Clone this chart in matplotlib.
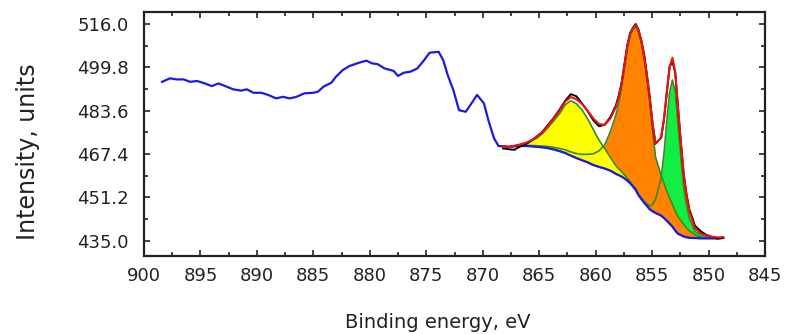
import numpy as np
import matplotlib.pyplot as plt
from matplotlib.ticker import MultipleLocator, FixedLocator, FormatStrFormatter

# survey part of the spectrum (blue)
survey_x = [898.4, 897.7, 897.1, 896.5, 895.9, 895.3, 894.6, 894.0, 893.4, 892.8,
            892.1, 891.4, 890.9, 890.3, 889.6, 889.0, 888.3, 887.7, 887.1, 886.5,
            885.8, 885.0, 884.6, 884.1, 883.4, 883.0, 882.4, 881.8, 881.0, 880.3,
            879.8, 879.3, 878.7, 877.9, 877.5, 877.0, 876.4, 875.8, 875.3, 874.7,
            873.9, 873.5, 873.1, 872.6, 872.1, 871.5, 871.1, 870.5, 869.9, 869.5,
            869.0, 868.6]
survey_y = [494.4, 495.7, 495.3, 495.3, 494.4, 494.7, 493.8, 492.8, 493.8, 492.8,
            491.6, 491.1, 491.6, 490.3, 490.3, 489.5, 488.2, 488.8, 488.2, 488.8,
            490.1, 490.3, 490.7, 492.6, 494.1, 496.3, 498.8, 500.3, 501.5, 502.3,
            501.3, 501.0, 499.4, 498.5, 496.6, 497.8, 498.2, 499.4, 501.9, 505.3,
            505.6, 502.5, 496.9, 491.3, 483.8, 483.2, 485.7, 489.5, 486.4, 480.1,
            473.3, 470.4]

# fit region: energy grid, background (blue) and the three components above it
fit_x = [868.2, 867.7, 867.2, 866.7, 866.2, 865.7, 865.2, 864.7, 864.2, 863.7,
         863.2, 862.7, 862.2, 861.7, 861.2, 860.7, 860.2, 859.7, 859.2, 858.7,
         858.2, 857.95, 857.7, 857.45, 857.2, 856.95, 856.7, 856.45, 856.2, 855.95,
         855.7, 855.45, 855.2, 854.95, 854.7, 854.2, 853.95, 853.7, 853.45, 853.2,
         852.95, 852.7, 852.45, 852.2, 851.95, 851.7, 851.2, 850.7, 850.2, 849.7,
         849.2, 848.7]
background = [470.3, 470.1, 470.3, 470.4, 470.4, 470.3, 470.1, 469.9, 469.6, 469.1,
              468.5, 467.8, 466.8, 465.9, 465.1, 464.3, 463.3, 462.6, 462.0, 461.2,
              460.0, 459.5, 459.0, 458.3, 457.5, 456.5, 455.3, 454.0, 452.0, 450.6,
              449.2, 448.0, 446.7, 446.0, 445.4, 444.4, 443.5, 442.5, 441.4, 440.3,
              438.8, 437.6, 437.1, 436.6, 436.3, 436.1, 436.0, 435.9, 435.9, 435.9,
              435.9, 436.1]
peak_yellow = [0, 0, 0.1, 0.5, 1.0, 2.0, 3.3, 5.2, 7.8, 10.8,
               14.0, 18.0, 20.5, 20.3, 18.8, 16.2, 13.2, 10.0, 7.5, 5.0,
               3.0, 2.4, 1.8, 1.3, 0.9, 0.6, 0.4, 0.3, 0.2, 0.1,
               0.1, 0.1, 0.1, 0, 0, 0, 0, 0, 0, 0,
               0, 0, 0, 0, 0, 0, 0, 0, 0, 0,
               0, 0]
peak_orange = [0, 0, 0.1, 0.1, 0.2, 0.3, 0.4, 0.5, 0.6, 0.8,
               1.0, 1.2, 1.4, 1.7, 2.2, 3.0, 4.2, 6.0, 8.8, 14.5,
               22.0, 27.0, 33.0, 41.0, 49.0, 55.0, 58.5, 61.0, 61.0, 58.5,
               54.0, 47.5, 40.0, 30.0, 21.0, 15.0, 13.0, 11.0, 9.5, 8.3,
               7.3, 6.4, 5.4, 4.5, 3.5, 2.6, 1.2, 0.5, 0.2, 0.1,
               0, 0]
peak_green = [0, 0, 0, 0, 0, 0, 0, 0, 0, 0,
              0, 0, 0, 0, 0, 0, 0, 0, 0, 0,
              0, 0, 0, 0, 0.1, 0.15, 0.2, 0.3, 0.3, 0.4,
              0.5, 0.8, 1.2, 2.6, 5.0, 14.0, 24.0, 37.0, 49.0, 54.8,
              51.9, 40.5, 29.0, 18.5, 12.0, 7.3, 2.4, 1.4, 0.9, 0.5,
              0.3, 0.2]
measured = [469.5, 469.2, 469.0, 470.2, 471.0, 472.4, 474.0, 475.8, 478.4, 481.0,
            484.0, 487.3, 489.8, 489.0, 486.3, 483.4, 480.0, 477.8, 478.4, 481.2,
            485.6, 489.4, 494.0, 501.0, 508.0, 512.6, 514.6, 516.0, 513.8, 509.8,
            504.6, 496.8, 488.4, 478.2, 471.2, 473.6, 480.2, 490.0, 500.0, 502.0,
            497.8, 484.6, 471.8, 460.0, 452.4, 446.8, 440.6, 438.6, 437.2, 436.4,
            435.8, 436.0]

x_ticks = [900, 895, 890, 885, 880, 875, 870, 865, 860, 855, 850, 845]
y_ticks = [435.0, 451.2, 467.4, 483.6, 499.8, 516.0]

fx = np.array(fit_x)
bg = np.array(background)
yel = bg + np.array(peak_yellow)
ora = bg + np.array(peak_orange)
grn = bg + np.array(peak_green)
envelope = bg + np.array(peak_yellow) + np.array(peak_orange) + np.array(peak_green)

fig = plt.figure(figsize=(7.87, 3.34), dpi=100)
ax = fig.add_axes([144 / 787, 1 - 256 / 334, 621 / 787, 244 / 334])

outline = '#3b8a1f'
# components, each filled from the background; later ones on top
ax.fill_between(fx, bg, grn, color='#14ee44', lw=0, zorder=1)
ax.fill_between(fx, bg, ora, color='#ff8200', lw=0, zorder=1.1)
ax.fill_between(fx, bg, yel, color='#ffff00', lw=0, zorder=1.2)
for comp in (grn, ora, yel):
    ax.plot(fx, comp, color=outline, lw=1.2, zorder=2)

blue_x = np.concatenate([survey_x, fx])
blue_y = np.concatenate([survey_y, bg])
ax.plot(blue_x, blue_y, color='#1a1ae6', lw=1.6, zorder=3)

ax.plot(fx, measured, color='black', lw=1.4, zorder=4)
ax.plot(fx, envelope, color='#ee1111', lw=1.5, zorder=5)

ax.set_xlim(900, 845)
ax.set_ylim(429.3, 520.5)
ax.xaxis.set_major_locator(FixedLocator(x_ticks))
ax.xaxis.set_minor_locator(MultipleLocator(2.5))
ax.yaxis.set_major_locator(FixedLocator(y_ticks))
ax.yaxis.set_minor_locator(FixedLocator([t + 8.1 for t in y_ticks[:-1]]))
ax.yaxis.set_major_formatter(FormatStrFormatter('%.1f'))

ax.tick_params(which='both', direction='in', top=True, right=True,
               colors='#222222', width=1.2)
ax.tick_params(which='major', length=4.5, labelsize=13)
ax.tick_params(which='minor', length=3)
ax.tick_params(axis='y', pad=11)
ax.tick_params(axis='x', pad=8)
for s in ax.spines.values():
    s.set_linewidth(1.6)
    s.set_color('#222222')

fig.text(28 / 787, 1 - 152 / 334, 'Intensity, units', rotation=90,
         ha='center', va='center', fontsize=17, color='#222222')
fig.text(438 / 787, 1 - 323 / 334, 'Binding energy, eV',
         ha='center', va='center', fontsize=14, color='#222222')

fig.savefig('out.png', dpi=100)
